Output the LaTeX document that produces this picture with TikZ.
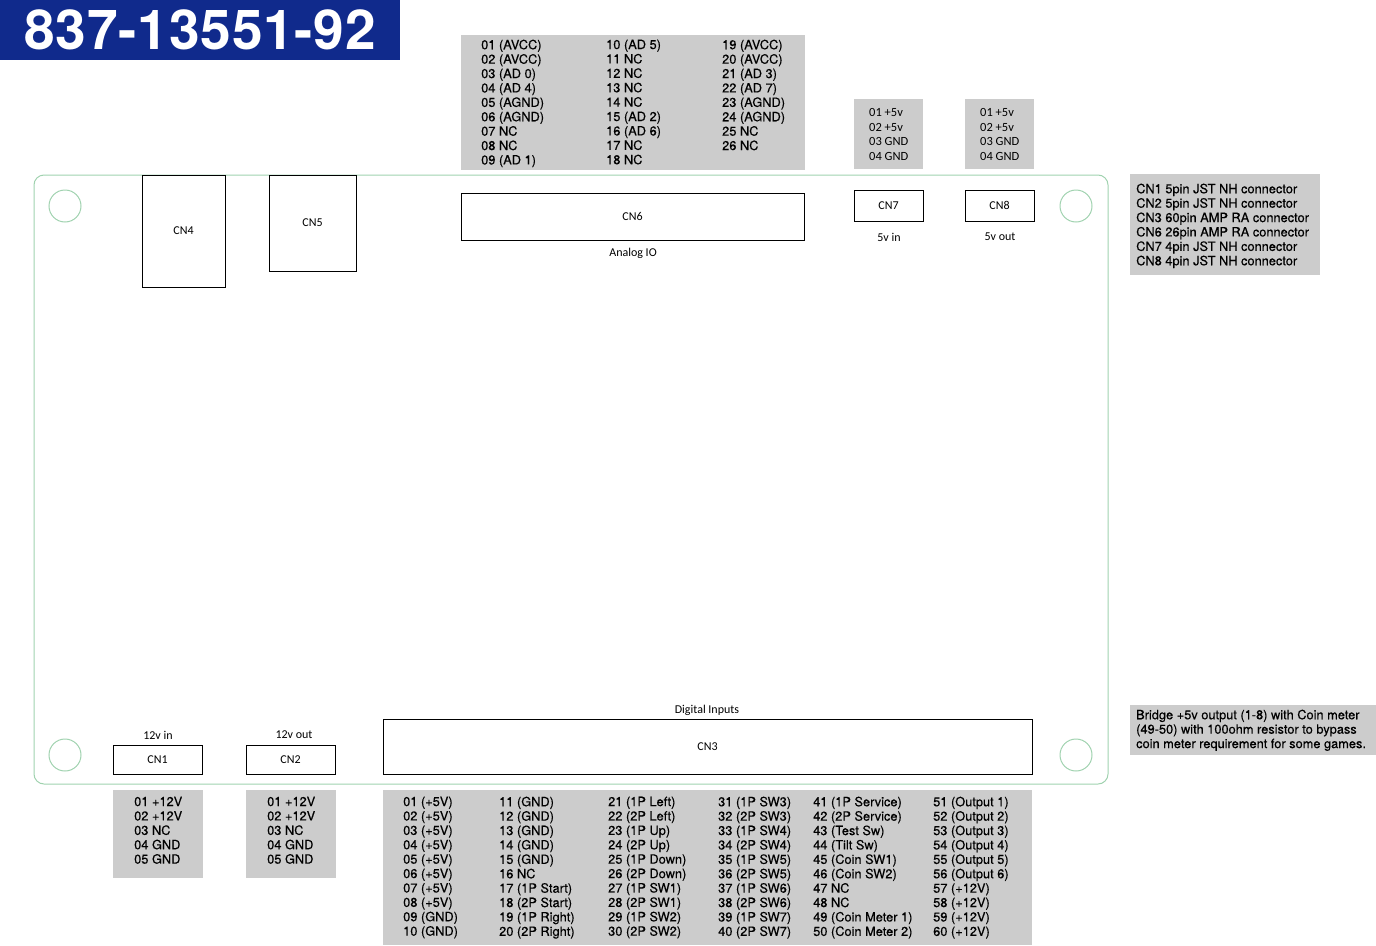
\documentclass[tikz,border=0pt]{standalone}
\usepackage{fontspec}
\setmainfont{TeX Gyre Heros}
\newfontfamily\pinfont[FakeBold=0.35]{TeX Gyre Heros}
\newfontfamily\titrefont[LetterSpace=1.5]{TeX Gyre Heros}
\newfontfamily\segoe{Carlito}
\usepackage{xcolor}
\definecolor{titlebleu}{RGB}{16, 42, 140}
\definecolor{pcbvert}{RGB}{160, 210, 175}
\definecolor{gris}{RGB}{204, 204, 204}

\tikzset{
  conn/.style={draw, line width=1pt, inner sep=0pt, font=\segoe\fontsize{12}{14}\selectfont},
  pinbox/.style={fill=gris, inner sep=0pt, anchor=north west},
  pins/.style={anchor=north west, inner sep=0pt, align=left, font=\pinfont\fontsize{12.8}{14.4}\selectfont},
  pinsb/.style={anchor=north west, inner sep=0pt, align=left, font=\segoe\fontsize{12.5}{14.4}\selectfont},
  lbl/.style={inner sep=0pt, font=\segoe\fontsize{12}{14}\selectfont},
  trou/.style={draw=pcbvert, line width=1pt, circle, minimum size=32pt, inner sep=0pt},
}

\begin{document}
\begin{tikzpicture}[x=1pt, y=-1pt]
    \useasboundingbox (0,0) rectangle (1376,945);

    % Titre
    \node[fill=titlebleu, anchor=north west, inner sep=0pt, minimum width=400, minimum height=60,
          text=white, font=\titrefont\bfseries\fontsize{55}{60}\selectfont] (titre) at (0,0) {837-13551-92};

    % Carte
    \draw[pcbvert, line width=1pt, rounded corners=10pt] (34,175) rectangle (1108,784);
    \node[trou] (trou1) at (65,206) {};
    \node[trou] (trou2) at (1076,206) {};
    \node[trou] (trou3) at (65,755) {};
    \node[trou] (trou4) at (1076,755) {};

    % Connecteurs du haut
    \node[conn, minimum width=83, minimum height=112] (cn4) at (183.5,231) {CN4};
    \node[conn, minimum width=87, minimum height=96] (cn5) at (312.5,223) {CN5};
    \node[conn, minimum width=343, minimum height=47] (cn6) at (632.5,216.5) {CN6};
    \node[lbl] (cn6lbl) at (633,253) {Analog IO};
    \node[conn, minimum width=69, minimum height=31] (cn7) at (888.5,205.5) {CN7};
    \node[lbl] (cn7lbl) at (889,237) {5v in};
    \node[conn, minimum width=69, minimum height=31] (cn8) at (999.5,205.5) {CN8};
    \node[lbl] (cn8lbl) at (1000,237) {5v out};

    % Brochage CN6
    \node[pinbox, minimum width=344, minimum height=135] (cn6box) at (461,35) {};
    \node[pins] (cn6a) at (481,39.5) {01 (AVCC)\\02 (AVCC)\\03 (AD 0)\\04 (AD 4)\\05 (AGND)\\06 (AGND)\\07 NC\\08 NC\\09 (AD 1)};
    \node[pins] (cn6b) at (606,39.5) {10 (AD 5)\\11 NC\\12 NC\\13 NC\\14 NC\\15 (AD 2)\\16 (AD 6)\\17 NC\\18 NC};
    \node[pins] (cn6c) at (722,39.5) {19 (AVCC)\\20 (AVCC)\\21 (AD 3)\\22 (AD 7)\\23 (AGND)\\24 (AGND)\\25 NC\\26 NC};

    % Brochage CN7 et CN8
    \node[pinbox, minimum width=69, minimum height=70] (cn7box) at (854,99) {};
    \node[pinsb] (cn7pins) at (869,108.5) {01 +5v\\02 +5v\\03 GND\\04 GND};
    \node[pinbox, minimum width=69, minimum height=70] (cn8box) at (965,99) {};
    \node[pinsb] (cn8pins) at (980,108.5) {01 +5v\\02 +5v\\03 GND\\04 GND};

    % Notes
    \node[pinbox, minimum width=190, minimum height=101] (notebox) at (1130,174) {};
    \node[pins] (notes) at (1136,183.5) {CN1 5pin JST NH connector\\CN2 5pin JST NH connector\\CN3 60pin AMP RA connector\\CN6 26pin AMP RA connector\\CN7 4pin JST NH connector\\CN8 4pin JST NH connector};
    \node[pinbox, minimum width=246, minimum height=50] (pontbox) at (1130,705) {};
    \node[pins] (pont) at (1136,709.5) {Bridge +5v output (1-8) with Coin meter\\(49-50) with 100ohm resistor to bypass\\coin meter requirement for some games.};

    % Connecteurs du bas
    \node[conn, minimum width=89, minimum height=29] (cn1) at (157.5,759.5) {CN1};
    \node[lbl] (cn1lbl) at (158,735) {12v in};
    \node[conn, minimum width=89, minimum height=29] (cn2) at (290.5,759.5) {CN2};
    \node[lbl] (cn2lbl) at (294,735) {12v out};
    \node[conn, minimum width=649, minimum height=55] (cn3) at (707.5,746.5) {CN3};
    \node[lbl] (cn3lbl) at (707,710) {Digital Inputs};

    % Brochage CN1 et CN2
    \node[pinbox, minimum width=90, minimum height=88] (cn1box) at (113,790) {};
    \node[pins] (cn1pins) at (134,796.5) {01 +12V\\02 +12V\\03 NC\\04 GND\\05 GND};
    \node[pinbox, minimum width=90, minimum height=88] (cn2box) at (246,790) {};
    \node[pins] (cn2pins) at (267,796.5) {01 +12V\\02 +12V\\03 NC\\04 GND\\05 GND};

    % Brochage CN3
    \node[pinbox, minimum width=649, minimum height=155] (cn3box) at (383,790) {};
    \node[pins] (cn3a) at (403,796.5) {01 (+5V)\\02 (+5V)\\03 (+5V)\\04 (+5V)\\05 (+5V)\\06 (+5V)\\07 (+5V)\\08 (+5V)\\09 (GND)\\10 (GND)};
    \node[pins] (cn3b) at (499,796.5) {11 (GND)\\12 (GND)\\13 (GND)\\14 (GND)\\15 (GND)\\16 NC\\17 (1P Start)\\18 (2P Start)\\19 (1P Right)\\20 (2P Right)};
    \node[pins] (cn3c) at (608,796.5) {21 (1P Left)\\22 (2P Left)\\23 (1P Up)\\24 (2P Up)\\25 (1P Down)\\26 (2P Down)\\27 (1P SW1)\\28 (2P SW1)\\29 (1P SW2)\\30 (2P SW2)};
    \node[pins] (cn3d) at (718,796.5) {31 (1P SW3)\\32 (2P SW3)\\33 (1P SW4)\\34 (2P SW4)\\35 (1P SW5)\\36 (2P SW5)\\37 (1P SW6)\\38 (2P SW6)\\39 (1P SW7)\\40 (2P SW7)};
    \node[pins] (cn3e) at (813,796.5) {41 (1P Service)\\42 (2P Service)\\43 (Test Sw)\\44 (Tilt Sw)\\45 (Coin SW1)\\46 (Coin SW2)\\47 NC\\48 NC\\49 (Coin Meter 1)\\50 (Coin Meter 2)};
    \node[pins] (cn3f) at (933,796.5) {51 (Output 1)\\52 (Output 2)\\53 (Output 3)\\54 (Output 4)\\55 (Output 5)\\56 (Output 6)\\57 (+12V)\\58 (+12V)\\59 (+12V)\\60 (+12V)};
\end{tikzpicture}
\end{document}
